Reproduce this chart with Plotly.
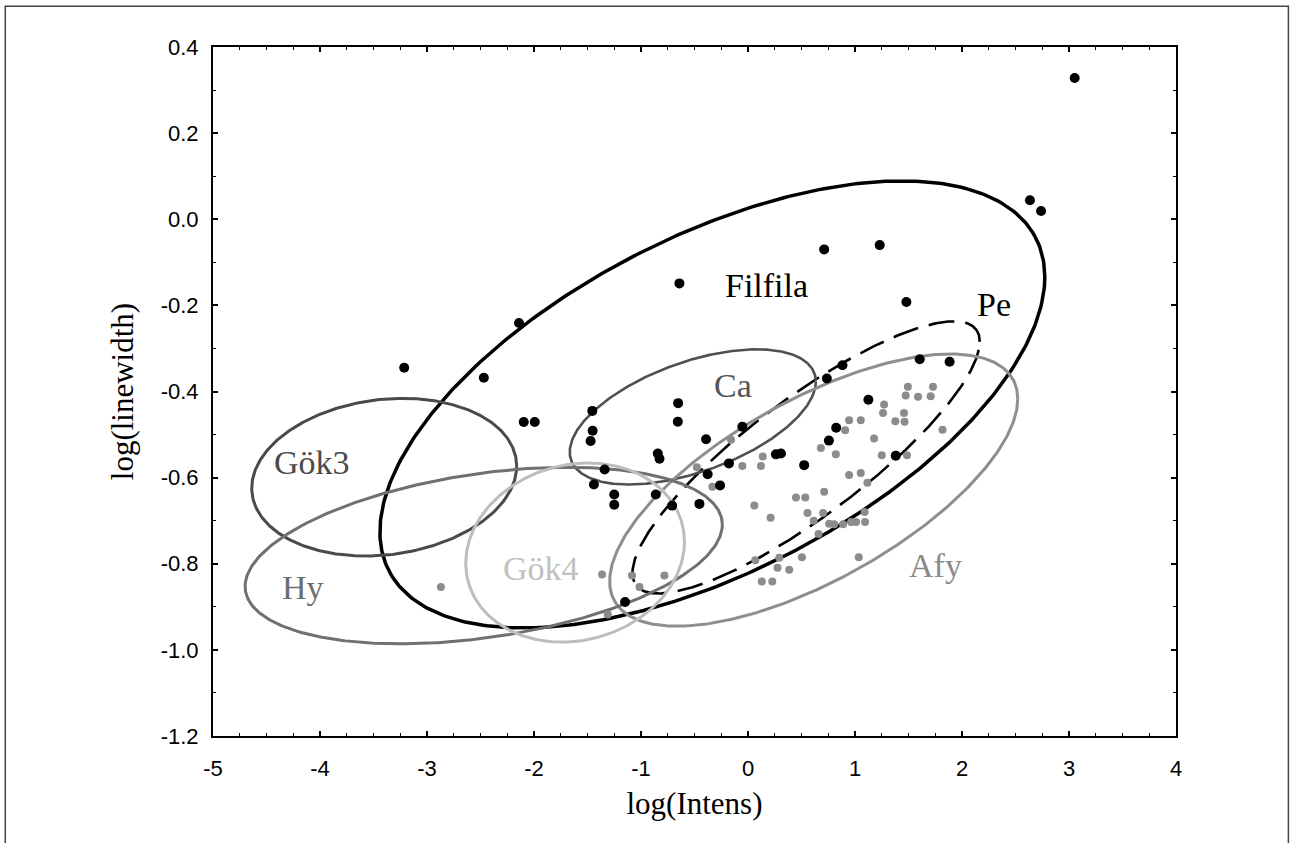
import numpy as np
import plotly.graph_objects as go

# ---------------- data ----------------
black_x = [3.053, 2.635, 2.739, 0.712, 1.231, -0.641, 1.480, -2.140, -3.213, -2.469,
           -2.096, -1.993, 1.605, 1.884, 0.883, 0.737, 1.125, -1.455, -1.452, -1.471,
           -0.653, -0.656, -0.392, -0.053, -0.843, -0.827, -1.340, -1.440, -1.250, -1.250,
           -0.862, -0.377, -0.178, -0.261, 0.261, 0.308, 0.525, 0.756, 0.824, 1.381,
           -0.709, -0.454, -1.149]
black_y = [0.328, 0.044, 0.019, -0.070, -0.060, -0.149, -0.192, -0.241, -0.345, -0.368,
           -0.471, -0.471, -0.325, -0.331, -0.339, -0.370, -0.419, -0.445, -0.491, -0.515,
           -0.427, -0.470, -0.511, -0.482, -0.544, -0.556, -0.581, -0.616, -0.639, -0.663,
           -0.639, -0.592, -0.567, -0.618, -0.546, -0.544, -0.571, -0.514, -0.484, -0.549,
           -0.665, -0.661, -0.889]

gray_x = [1.494, 1.729, 1.474, 1.589, 1.707, 1.272, 1.262, 1.458, 1.377, 1.463,
          1.818, 1.178, 1.250, 1.486, 0.945, 1.054, 0.908, 0.681, 0.821, 0.138,
          0.121, -0.053, -0.159, -0.478, -0.333, 0.945, 1.054, 1.116, 0.712, 0.448,
          0.535, 0.059, 0.211, 0.556, 0.702, 0.614, 0.758, 0.805, 0.889, 0.964,
          1.010, 1.094, 1.090, 0.659, 1.035, 0.292, 0.504, 0.068, 0.276, 0.385,
          0.129, 0.227, -1.364, -1.084, -0.781, -1.014, -1.310, -2.870]
gray_y = [-0.389, -0.389, -0.409, -0.412, -0.411, -0.430, -0.450, -0.450, -0.469, -0.470,
          -0.489, -0.509, -0.548, -0.548, -0.467, -0.467, -0.490, -0.531, -0.546, -0.551,
          -0.573, -0.573, -0.512, -0.576, -0.621, -0.594, -0.589, -0.612, -0.633, -0.646,
          -0.646, -0.665, -0.693, -0.682, -0.682, -0.700, -0.707, -0.708, -0.708, -0.703,
          -0.703, -0.703, -0.680, -0.731, -0.785, -0.786, -0.785, -0.792, -0.809, -0.814,
          -0.841, -0.841, -0.825, -0.827, -0.827, -0.854, -0.918, -0.854]

# confidence ellipses: centre, half-extent in x and y, correlation
groups  = ["Filfila", "Pe", "Ca", "Afy", "Gök3", "Hy", "Gök4"]
ell_cx  = [-0.333, 0.543, -0.516, 0.614, -3.400, -2.470, -1.616]
ell_cy  = [-0.430, -0.553, -0.459, -0.629, -0.599, -0.781, -0.774]
ell_sx  = [3.107, 1.623, 1.150, 1.907, 1.238, 2.230, 1.022]
ell_sy  = [0.519, 0.316, 0.157, 0.316, 0.183, 0.205, 0.208]
ell_rho = [0.57, 0.85, 0.52, 0.67, 0.14, 0.35, 0.12]
label_x = [0.175, 2.298, -0.144, 1.754, -4.077, -4.162, -1.939]
label_y = [-0.153, -0.197, -0.385, -0.803, -0.564, -0.855, -0.810]

x_ticks = [-5, -4, -3, -2, -1, 0, 1, 2, 3, 4]
x_ticktext = ["-5", "-4", "-3", "-2", "-1", "0", "1", "2", "3", "4"]
y_ticks = [-1.2, -1.0, -0.8, -0.6, -0.4, -0.2, 0.0, 0.2, 0.4]
y_ticktext = ["-1.2", "-1.0", "-0.8", "-0.6", "-0.4", "-0.2", "0.0", "0.2", "0.4"]

# ---------------- styles ----------------
ell_color = ["#000000", "#000000", "#505050", "#8e8e8e", "#4a4a4a", "#707070", "#bdbdbd"]
ell_width = [3.5, 2.6, 2.6, 3.0, 3.0, 3.0, 3.0]
ell_dash = ["solid", "26px,11px", "solid", "solid", "solid", "solid", "solid"]
lab_color = ["#000000", "#000000", "#555555", "#8a8a8a", "#4a4a4a", "#6e6e6e", "#c0c0c0"]

SERIF = "Liberation Serif, Times New Roman, serif"
SANS = "Liberation Sans, Arial, sans-serif"

fig = go.Figure()

t = np.linspace(0, 2 * np.pi, 400)
for i, g in enumerate(groups):
    ex = ell_cx[i] + ell_sx[i] * np.cos(t)
    ey = ell_cy[i] + ell_sy[i] * (ell_rho[i] * np.cos(t) + np.sqrt(1 - ell_rho[i] ** 2) * np.sin(t))
    fig.add_trace(go.Scatter(x=ex, y=ey, mode="lines", name=g,
                             line=dict(color=ell_color[i], width=ell_width[i], dash=ell_dash[i]),
                             hoverinfo="skip"))

fig.add_trace(go.Scatter(x=gray_x, y=gray_y, mode="markers",
                         marker=dict(color="#8c8c8c", size=8), name="gray"))
fig.add_trace(go.Scatter(x=black_x, y=black_y, mode="markers",
                         marker=dict(color="#000000", size=10), name="black"))

for i, g in enumerate(groups):
    fig.add_annotation(x=label_x[i], y=label_y[i], text=g, showarrow=False,
                       font=dict(family=SERIF, size=34, color=lab_color[i]),
                       xanchor="center", yanchor="middle")

axis_common = dict(showgrid=False, zeroline=False, showline=True, linecolor="black",
                   linewidth=2, mirror="ticks", ticks="inside", ticklen=5, tickwidth=1.5,
                   tickcolor="black", tickfont=dict(family=SANS, size=22, color="black"))

fig.update_xaxes(range=[-5, 4], tickvals=x_ticks, ticktext=x_ticktext,
                 minor=dict(ticks="inside", dtick=0.25, ticklen=3, tickcolor="black", tickwidth=1.2),
                 ticklabelstandoff=12,
                 title=dict(text="log(Intens)", font=dict(family=SERIF, size=31, color="black"),
                            standoff=12),
                 **axis_common)
fig.update_yaxes(range=[-1.2, 0.4], tickvals=y_ticks, ticktext=y_ticktext,
                 minor=dict(ticks="inside", dtick=0.1, ticklen=3, tickcolor="black", tickwidth=1.2),
                 ticklabelstandoff=8,
                 title=dict(text="log(linewidth)", font=dict(family=SERIF, size=31, color="black"),
                            standoff=18),
                 **axis_common)

# outer frame around the whole picture
fig.add_shape(type="rect", xref="paper", yref="paper",
              x0=-0.2157, x1=1.1167, y0=-0.16, y1=1.059,
              line=dict(color="#444444", width=1.5), layer="below")

fig.update_layout(width=1294, height=843, showlegend=False,
                  margin=dict(l=213, r=118, t=47, b=107, autoexpand=False),
                  plot_bgcolor="white", paper_bgcolor="white")

fig.write_html("out.html", config={"displayModeBar": False},
               post_script="document.body.style.margin='0';")
